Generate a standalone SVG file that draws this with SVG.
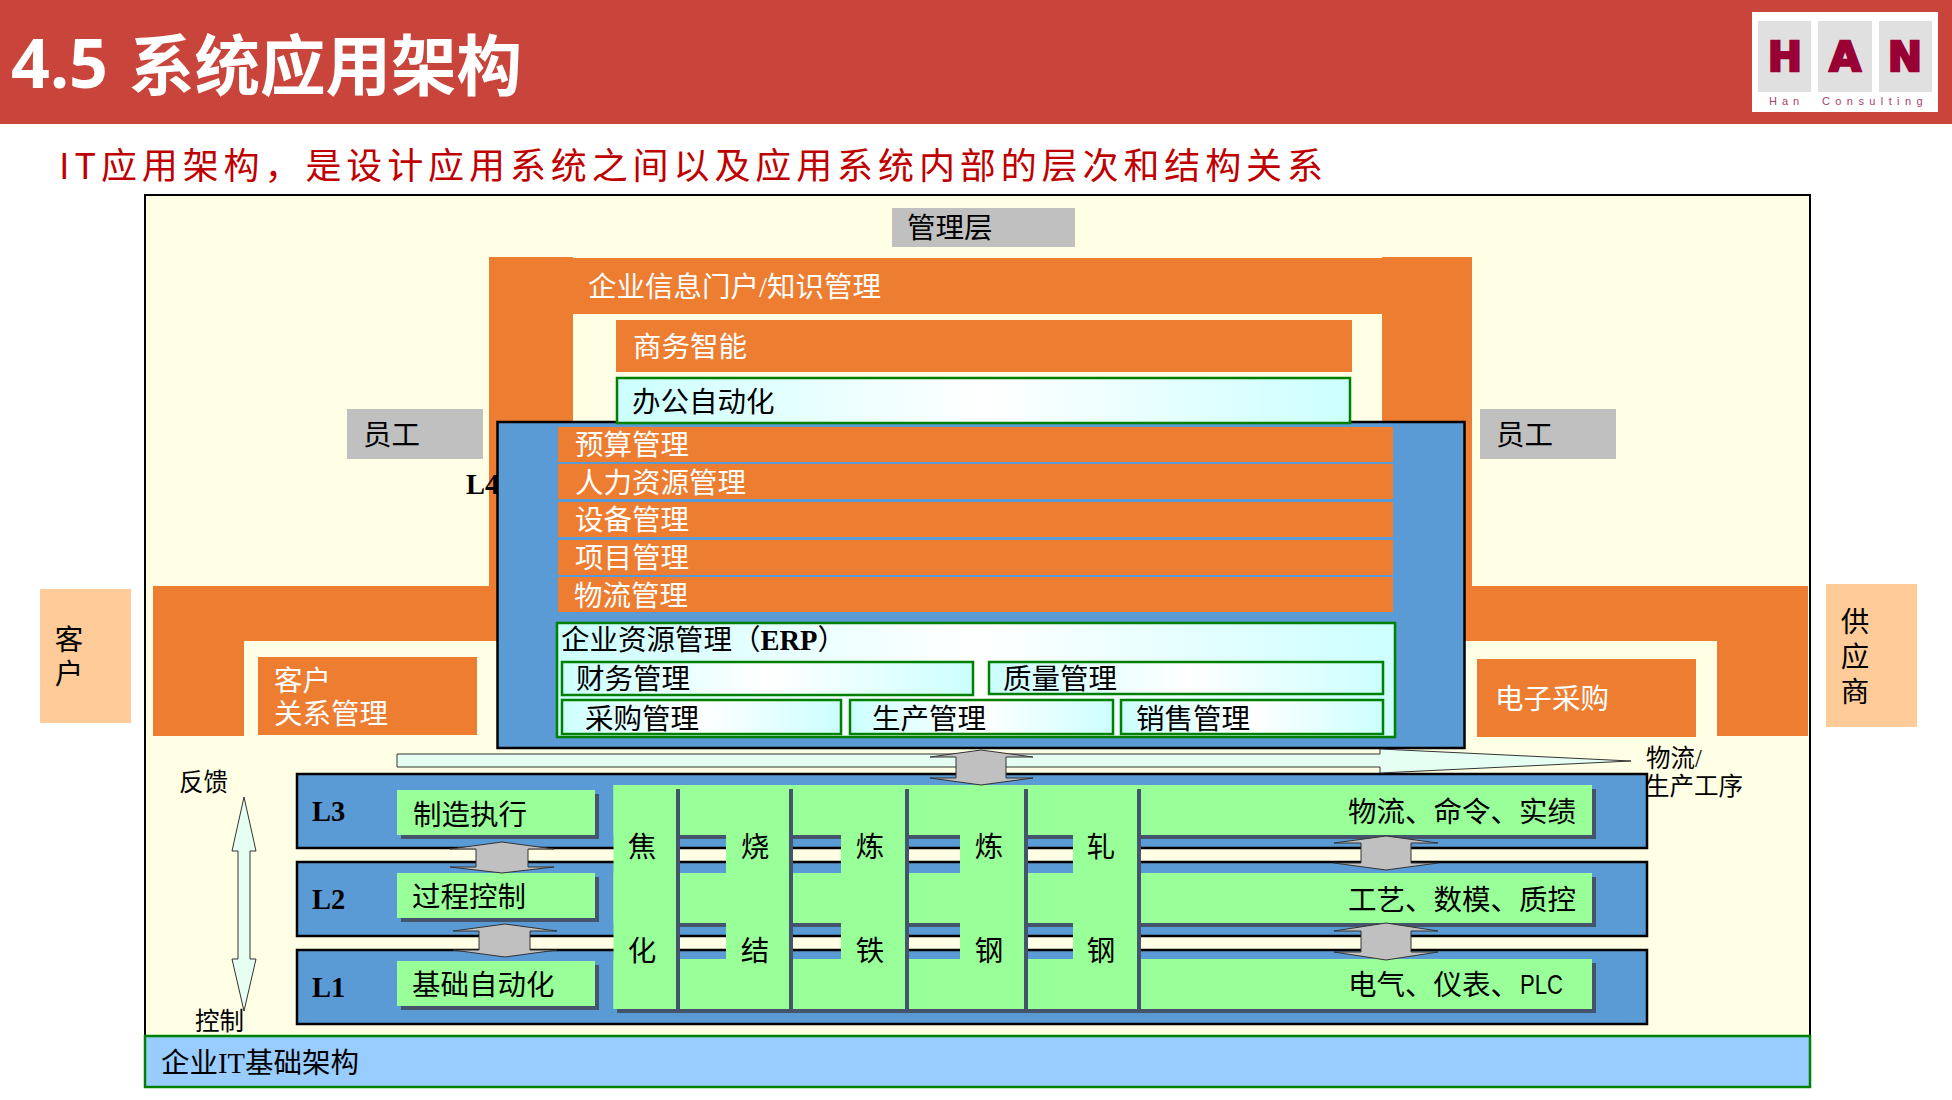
<svg xmlns="http://www.w3.org/2000/svg" width="1952" height="1100" viewBox="0 0 1952 1100">
<defs>
<linearGradient id="axial" x1="0" y1="0" x2="1" y2="0"><stop offset="0" stop-color="#ccffff"/><stop offset="0.5" stop-color="#ffffff"/><stop offset="1" stop-color="#ccffff"/></linearGradient>
</defs>
<style>
text{font-family:"Liberation Serif","Noto Sans CJK SC",serif;font-size:28.5px;fill:#000}
.w{fill:#fff}
.b{font-weight:700}
.o{fill:#ED7D31}
.gr{fill:#C0C0C0}
.pe{fill:#FFCC99}
.bl{fill:#5B9BD5;stroke:#000;stroke-width:2.5}
.gn{fill:#99FF99}
.sh{fill:#44546A}
.ax{fill:url(#axial);stroke:#008000;stroke-width:2.5}
.s24{font-size:24.500px}
.ar{fill:#C0C0C0;stroke:#333;stroke-width:1}
.ar2{fill:#E5FFF2;stroke:#333;stroke-width:1}
.m{text-anchor:middle}
.lg{font-family:"DejaVu Sans",sans-serif;font-size:41px;font-weight:700;fill:#990033;stroke:#990033;stroke-width:2.500;text-anchor:middle}
</style>
<rect width="1952" height="1100" fill="#fff"/>
<g id="header">
<rect width="1952" height="124" fill="#C9443B"/>
<text x="11" y="88" style="font-family:'Noto Sans','Noto Sans CJK SC',sans-serif;font-size:68px;font-weight:700;fill:#fff">4.5</text>
<text x="129" y="90" style="font-family:'Noto Sans CJK SC',sans-serif;font-size:65.500px;font-weight:700;fill:#fff">系统应用架构</text>
</g>
<g id="logo">
<rect x="1752" y="12" width="186" height="100" fill="#fff"/>
<rect x="1758" y="21" width="53" height="71" fill="#E0E0E0"/>
<rect x="1818" y="21" width="54" height="71" fill="#E0E0E0"/>
<rect x="1879" y="21" width="53" height="71" fill="#E0E0E0"/>
<text class="lg" x="1785" y="71">H</text>
<text class="lg" x="1845" y="71">A</text>
<text class="lg" x="1905" y="71">N</text>
<text x="1769" y="105" style="font-family:'Liberation Sans',sans-serif;font-size:11px;letter-spacing:5px;fill:#A8406F">Han</text>
<text x="1822" y="105" style="font-family:'Liberation Sans',sans-serif;font-size:11px;letter-spacing:5.4px;fill:#A8406F">Consulting</text>
</g>
<text id="subtitle" x="59" y="179" style="font-family:'Noto Sans CJK SC',sans-serif;font-size:36px;letter-spacing:4.900px;fill:#C00000">IT应用架构，是设计应用系统之间以及应用系统内部的层次和结构关系</text>
<rect id="frame" x="145" y="195" width="1665" height="892" fill="#FFFFE5" stroke="#000" stroke-width="2"/>
<g id="mgmt"><rect class="gr" x="892" y="208" width="183" height="39"/><text x="907" y="238">管理层</text></g>
<g id="portal">
<path class="o" d="M489 257H573V258H1382V257H1472V586H1808V736H1717V641H1440V500H1382V314H573V586H500V641H244V736H153V586H489Z"/>
<text class="w" x="588" y="297">企业信息门户/知识管理</text>
</g>
<g id="bi"><rect class="o" x="616" y="320" width="736" height="52"/><text class="w" x="633" y="357">商务智能</text></g>
<g id="emp-left"><rect class="gr" x="347" y="409" width="136" height="50"/><text x="363" y="445">员工</text></g>
<g id="emp-right"><rect class="gr" x="1480" y="409" width="136" height="50"/><text x="1496" y="445">员工</text></g>
<text id="l4" class="b" x="466" y="494">L4</text>
<g id="customer"><rect class="pe" x="40" y="589" width="91" height="134"/><text class="m" x="69" y="650">客</text><text class="m" x="69" y="684">户</text></g>
<g id="supplier"><rect class="pe" x="1826" y="584" width="91" height="143"/><text class="m" x="1855" y="632">供</text><text class="m" x="1855" y="667">应</text><text class="m" x="1855" y="702">商</text></g>
<g id="crm"><rect class="o" x="258" y="657" width="219" height="78"/><text class="w" x="274" y="691">客户</text><text class="w" x="274" y="724">关系管理</text></g>
<g id="purchase"><rect class="o" x="1477" y="659" width="219" height="78"/><text class="w" x="1495" y="709">电子采购</text></g>
<g id="erp-box">
<rect class="bl" x="497.500" y="422" width="967" height="326"/>
<rect class="ax" x="617" y="378" width="733" height="45"/>
<text x="632" y="412">办公自动化</text>
<rect class="o" x="558" y="427" width="835" height="35"/><text class="w" x="575" y="455">预算管理</text>
<rect class="o" x="558" y="464" width="835" height="35"/><text class="w" x="575" y="493">人力资源管理</text>
<rect class="o" x="558" y="502" width="835" height="35"/><text class="w" x="575" y="530">设备管理</text>
<rect class="o" x="558" y="540" width="835" height="35"/><text class="w" x="575" y="568">项目管理</text>
<rect class="o" x="558" y="577" width="835" height="35"/><text class="w" x="574" y="606">物流管理</text>
<rect class="ax" x="557" y="623" width="838" height="114"/>
<text x="561" y="650">企业资源管理（<tspan class="b">ERP</tspan>）</text>
<rect class="ax" x="562" y="662" width="411" height="33"/><text x="576" y="689">财务管理</text>
<rect class="ax" x="989" y="662" width="394" height="32"/><text x="1003" y="689">质量管理</text>
<rect class="ax" x="562" y="700" width="279" height="34"/><text x="585" y="729">采购管理</text>
<rect class="ax" x="850" y="700" width="263" height="34"/><text x="872" y="729">生产管理</text>
<rect class="ax" x="1121" y="700" width="262" height="34"/><text x="1136" y="729">销售管理</text>
</g>
<text class="s24" x="1646" y="767">物流/</text>
<text class="s24" x="1645" y="795">生产工序</text>
<text class="s24" x="179" y="791">反馈</text>
<text class="s24" x="195" y="1030">控制</text>
<g id="L3"><rect class="bl" x="297" y="774" width="1350" height="74"/><text class="b" x="312" y="821">L3</text></g>
<g id="L2"><rect class="bl" x="297" y="862" width="1350" height="74"/><text class="b" x="312" y="909">L2</text></g>
<g id="L1"><rect class="bl" x="297" y="950" width="1350" height="74"/><text class="b" x="312" y="997">L1</text></g>
<g id="mes"><rect class="sh" x="401" y="794" width="198" height="45"/><rect class="gn" x="397" y="790" width="198" height="45"/><text x="413" y="825">制造执行</text></g>
<g id="pcs"><rect class="sh" x="401" y="877" width="198" height="45"/><rect class="gn" x="397" y="873" width="198" height="45"/><text x="412" y="907">过程控制</text></g>
<g id="bas"><rect class="sh" x="401" y="965" width="198" height="45"/><rect class="gn" x="397" y="961" width="198" height="45"/><text x="412" y="995">基础自动化</text></g>
<g id="processes">
<rect class="sh" x="617" y="789" width="979" height="50"/>
<rect class="sh" x="617" y="877" width="979" height="50"/>
<rect class="sh" x="617" y="963" width="979" height="50"/>
<rect class="gn" x="613.500" y="785" width="978.500" height="50"/>
<rect class="gn" x="613.500" y="873" width="978.500" height="50"/>
<rect class="gn" x="613.500" y="959" width="978.500" height="50"/>
<rect class="gn" x="613.500" y="785" width="63" height="224"/>
<rect class="gn" x="726" y="785" width="63" height="224"/>
<rect class="gn" x="841" y="785" width="64" height="224"/>
<rect class="gn" x="960" y="785" width="64" height="224"/>
<rect class="gn" x="1073" y="785" width="64" height="224"/>
<rect class="sh" x="676" y="789" width="4" height="224"/>
<rect class="sh" x="789" y="789" width="4" height="224"/>
<rect class="sh" x="905" y="789" width="4" height="224"/>
<rect class="sh" x="1024" y="789" width="4" height="224"/>
<rect class="sh" x="1137" y="789" width="4" height="224"/>
<text class="m" x="642" y="857">焦</text><text class="m" x="642" y="961">化</text>
<text class="m" x="755" y="857">烧</text><text class="m" x="755" y="961">结</text>
<text class="m" x="870" y="857">炼</text><text class="m" x="870" y="961">铁</text>
<text class="m" x="989" y="857">炼</text><text class="m" x="989" y="961">钢</text>
<text class="m" x="1101" y="857">轧</text><text class="m" x="1101" y="961">钢</text>
<text x="1348" y="822">物流、命令、实绩</text>
<text x="1348" y="910">工艺、数模、质控</text>
<text x="1348" y="995">电气、仪表、</text>
<text x="1520" y="994" textLength="43" lengthAdjust="spacingAndGlyphs" style="font-family:'Liberation Sans',sans-serif">PLC</text>
</g>
<g id="connectors">
<path class="ar2" d="M397 754V767H1380V773L1631 761L1380 749V754Z"/>
<path class="ar2" d="M244 797L256 851H250V959H256L244 1011L232 959H238V851H232Z"/>
<path class="ar" d="M981 750L1033 757H1006V778H1033L981 785L930 778H956V757H930Z"/>
<path class="ar" d="M502 842L554 849H528V867H554L502 873L450 867H476V849H450Z"/>
<path class="ar" d="M505 924L557 931H530V950H557L505 957L453 950H479V931H453Z"/>
<path class="ar" d="M1386 836L1438 843H1411V863H1438L1386 870L1334 863H1361V843H1334Z"/>
<path class="ar" d="M1386 923L1438 931H1411V952H1438L1386 960L1334 952H1361V931H1334Z"/>
</g>
<g id="infra"><rect x="145" y="1036" width="1665" height="51" fill="#99CCFF" stroke="#008000" stroke-width="2.500"/><text x="161" y="1073">企业IT基础架构</text></g>
</svg>
